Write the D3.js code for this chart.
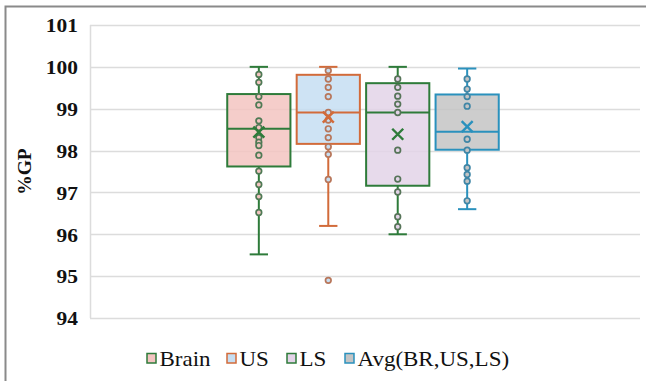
<!DOCTYPE html>
<html><head><meta charset="utf-8">
<script src="https://cdn.jsdelivr.net/npm/d3@7"></script>
<style>html,body{margin:0;padding:0;background:#fff;overflow:hidden}</style>
</head><body>
<svg id="c" width="646" height="381"></svg>
<script>
const series = ["Brain", "US", "LS", "Avg(BR,US,LS)"];
const mins    = [95.52, 96.20, 96.00, 96.60];
const q1s     = [97.62, 98.16, 97.16, 98.02];
const medians = [98.52, 98.91, 98.91, 98.45];
const q3s     = [99.35, 99.81, 99.61, 99.34];
const maxs    = [100.00, 100.00, 100.00, 99.96];
const means   = [98.44, 98.80, 98.39, 98.57];
const brainPts = [99.82, 99.63, 99.29, 99.09, 98.71, 98.55, 98.31, 98.20, 98.12, 97.89, 97.51, 97.19, 96.90, 96.52];
const usPts    = [99.91, 99.71, 99.51, 99.29, 98.91, 98.73, 98.52, 98.31, 98.09, 97.91, 97.31, 94.90];
const lsPts    = [99.71, 99.51, 99.30, 99.11, 98.91, 98.01, 97.32, 97.01, 96.42, 96.18];
const avgPts   = [99.71, 99.47, 99.29, 99.06, 98.27, 98.01, 97.59, 97.43, 97.27, 96.80];
const points = [brainPts, usPts, lsPts, avgPts];
const yTicks = [94, 95, 96, 97, 98, 99, 100, 101];
const yLabel = "%GP";

const fills   = ["#f3c4c1", "#c6def2", "#e3d3e8", "#c4c4c4"];
const strokes = ["#2e7b3a", "#d26b3a", "#2e7b3a", "#2a91bd"];
const ptStrokes = ["#4f7a55", "#b8765a", "#567458", "#3f86a6"];

const svg = d3.select("#c");
const serif = "'Liberation Serif', 'Times New Roman', serif";
// outer frame
svg.append("rect").attr("x", 5.5).attr("y", 6.5).attr("width", 700).attr("height", 400)
  .attr("fill", "none").attr("stroke", "#8a8a8a").attr("stroke-width", 2);

const y = d3.scaleLinear().domain([94, 101]).range([318, 25]);
const plotL = 90, plotR = 640;
const x0 = d3.scaleBand().domain(["g"]).range([88, 638]).paddingOuter(0.49).paddingInner(0);
const x1 = d3.scaleBand().domain(series).range([0, x0.bandwidth()]).paddingInner(0.09).paddingOuter(0.045);
const gx = x0("g");

// gridlines
svg.append("g").selectAll("line").data(yTicks).join("line")
  .attr("x1", plotL).attr("x2", plotR)
  .attr("y1", d => Math.round(y(d)) + 0.5).attr("y2", d => Math.round(y(d)) + 0.5)
  .attr("stroke", "#dcdcdc").attr("stroke-width", 1.5);
svg.append("line").attr("x1", plotL + 0.5).attr("x2", plotL + 0.5)
  .attr("y1", y(101)).attr("y2", y(94)).attr("stroke", "#dcdcdc").attr("stroke-width", 1.5);

// y axis labels
const yAxis = d3.axisLeft(y).tickValues(yTicks).tickSize(0).tickPadding(0).tickFormat(d3.format("d"));
const ya = svg.append("g").attr("transform", "translate(78,0)").call(yAxis);
ya.select(".domain").remove();
ya.selectAll("text")
  .attr("font-family", serif)
  .attr("font-weight", "bold").attr("font-size", 19.5).attr("fill", "#111")
  .attr("text-anchor", "end").attr("dy", "0.35em")
  .attr("transform", "scale(1.1,1)")
  .attr("x", 0);

svg.append("text").attr("transform", `translate(31,${(y(94)+y(101))/2}) rotate(-90)`)
  .attr("text-anchor", "middle")
  .attr("font-family", serif)
  .attr("font-weight", "bold").attr("font-size", 19.5).attr("fill", "#111").text(yLabel);

// boxes
series.forEach((s, i) => {
  const bx = gx + x1(s), bw = x1.bandwidth(), cx = bx + bw / 2;
  const g = svg.append("g");
  const cap = bw * 0.145;
  g.append("line").attr("x1", cx).attr("x2", cx).attr("y1", y(maxs[i])).attr("y2", y(q3s[i]))
    .attr("stroke", strokes[i]).attr("stroke-width", 2);
  g.append("line").attr("x1", cx).attr("x2", cx).attr("y1", y(q1s[i])).attr("y2", y(mins[i]))
    .attr("stroke", strokes[i]).attr("stroke-width", 2);
  [maxs[i], mins[i]].forEach(v => {
    g.append("line").attr("x1", cx - cap).attr("x2", cx + cap).attr("y1", y(v)).attr("y2", y(v))
      .attr("stroke", strokes[i]).attr("stroke-width", 2);
  });
  g.append("rect").attr("x", bx).attr("y", y(q3s[i])).attr("width", bw)
    .attr("height", y(q1s[i]) - y(q3s[i]))
    .attr("fill", fills[i]).attr("fill-opacity", 0.85)
    .attr("stroke", strokes[i]).attr("stroke-width", 2);
  g.append("line").attr("x1", bx).attr("x2", bx + bw).attr("y1", y(medians[i])).attr("y2", y(medians[i]))
    .attr("stroke", strokes[i]).attr("stroke-width", 2);
  g.selectAll("circle").data(points[i]).join("circle")
    .attr("cx", cx).attr("cy", d => y(d)).attr("r", 2.8)
    .attr("fill", fills[i]).attr("stroke", ptStrokes[i]).attr("stroke-width", 1.7);
  const m = y(means[i]), h = 5.5;
  g.append("path").attr("d", `M${cx-h},${m-h}L${cx+h},${m+h}M${cx+h},${m-h}L${cx-h},${m+h}`)
    .attr("stroke", strokes[i]).attr("stroke-width", 2.4).attr("fill", "none");
});

// legend
const legendX = [147, 227, 287, 345];
const lg = svg.append("g");
series.forEach((s, i) => {
  lg.append("rect").attr("x", legendX[i]).attr("y", 353.5).attr("width", 9).attr("height", 9.5)
    .attr("fill", fills[i]).attr("stroke", strokes[i]).attr("stroke-width", 1.5);
  lg.append("text").attr("x", (legendX[i] + 12.5) / 1.15).attr("y", 366.5)
    .attr("transform", "scale(1.15,1)")
    .attr("font-family", serif)
    .attr("font-size", 20).attr("fill", "#111").text(s);
});
</script>
</body></html>
